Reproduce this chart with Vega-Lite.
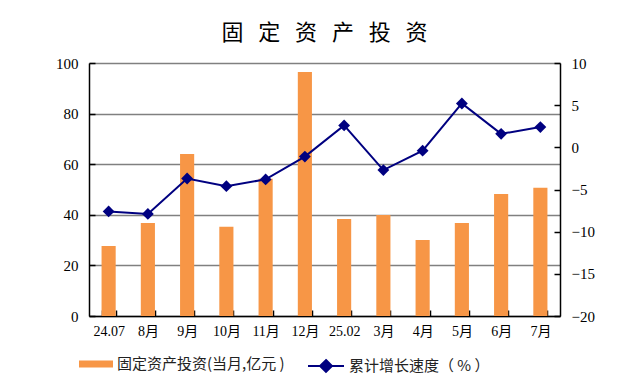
{
  "$schema": "https://vega.github.io/schema/vega-lite/v6.json",
  "width": 471,
  "height": 253,
  "autosize": "none",
  "padding": {"left": 89, "top": 63, "right": 65, "bottom": 72},
  "background": "white",
  "title": {"text": "固\u00a0\u00a0\u00a0定\u00a0\u00a0\u00a0资\u00a0\u00a0\u00a0产\u00a0\u00a0\u00a0投\u00a0\u00a0\u00a0资", "fontSize": 22, "font": "Noto Sans CJK SC", "fontWeight": "normal", "offset": 11, "anchor": "middle", "color": "black"},
  "data": {"values": [
    {"month": "24.07", "invest": 27.7, "growth": -7.6},
    {"month": "8月", "invest": 36.8, "growth": -7.9},
    {"month": "9月", "invest": 64.0, "growth": -3.7},
    {"month": "10月", "invest": 35.3, "growth": -4.6},
    {"month": "11月", "invest": 54.2, "growth": -3.8},
    {"month": "12月", "invest": 96.4, "growth": -1.1},
    {"month": "25.02", "invest": 38.3, "growth": 2.6},
    {"month": "3月", "invest": 39.9, "growth": -2.7},
    {"month": "4月", "invest": 30.0, "growth": -0.4},
    {"month": "5月", "invest": 36.8, "growth": 5.2},
    {"month": "6月", "invest": 48.2, "growth": 1.6},
    {"month": "7月", "invest": 50.7, "growth": 2.4}
  ]},
  "encoding": {
    "x": {"field": "month", "type": "nominal", "sort": null,
      "scale": {"paddingInner": 0.64, "paddingOuter": 0.32},
      "axis": {"title": null, "labelAngle": 0, "tickBand": "extent", "tickSize": -6, "domainColor": "black", "tickColor": "black", "domainWidth": 1.5, "tickWidth": 1.5, "labelFont": "Liberation Serif, Noto Sans CJK SC", "labelFontSize": 14, "labelColor": "black", "labelPadding": 14, "grid": false}}
  },
  "layer": [
    {
      "mark": {"type": "bar"},
      "encoding": {
        "y": {"field": "invest", "type": "quantitative", "scale": {"domain": [0, 100], "nice": false},
          "axis": {"title": null, "values": [0, 20, 40, 60, 80, 100], "grid": true, "gridColor": "#808080", "gridWidth": 1.5, "gridOpacity": 1, "tickSize": -6, "labelPadding": 17, "domainColor": "black", "tickColor": "black", "domainWidth": 1.5, "tickWidth": 1.5, "labelFont": "Liberation Serif", "labelFontSize": 15, "labelColor": "black"}},
        "fill": {"datum": "固定资产投资(当月,亿元\u00a0)", "scale": {"range": ["#F79646"]},
          "legend": {"title": null, "orient": "none", "legendX": -10, "legendY": 284, "symbolType": "M-1,-0.2H1V0.2H-1Z", "symbolSize": 1156, "symbolStrokeWidth": 0, "labelFont": "Noto Sans CJK SC", "labelFontSize": 15, "labelColor": "#222222", "labelLimit": 400}}
      }
    },
    {
      "mark": {"type": "line", "strokeWidth": 2},
      "encoding": {
        "y": {"field": "growth", "type": "quantitative", "scale": {"domain": [-20, 10], "nice": false},
          "axis": {"orient": "right", "title": null, "values": [-20, -15, -10, -5, 0, 5, 10], "grid": false, "tickSize": -6, "labelPadding": 17, "domainColor": "black", "tickColor": "black", "domainWidth": 1.5, "tickWidth": 1.5, "labelFont": "Liberation Serif", "labelFontSize": 15, "labelColor": "black"}},
        "stroke": {"datum": "累计增长速度（\u00a0%\u00a0）", "scale": {"range": ["#000080"]},
          "legend": {"title": null, "orient": "none", "legendX": 218, "legendY": 284, "symbolType": "M-1,0H1M0,-0.33L0.33,0L0,0.33L-0.33,0Z", "symbolSize": 1296, "symbolStrokeWidth": 2, "labelFont": "Noto Sans CJK SC", "labelFontSize": 15, "labelColor": "#222222", "labelLimit": 400,
            "encode": {"symbols": {"update": {"fill": {"value": "#000080"}}}}}}
      }
    },
    {
      "mark": {"type": "point", "shape": "diamond", "size": 140, "filled": true, "color": "#000080", "opacity": 1},
      "encoding": {
        "y": {"field": "growth", "type": "quantitative", "scale": {"domain": [-20, 10], "nice": false}, "axis": null}
      }
    }
  ],
  "resolve": {"scale": {"y": "independent", "fill": "independent", "stroke": "independent"}},
  "config": {"view": {"stroke": null}}
}
